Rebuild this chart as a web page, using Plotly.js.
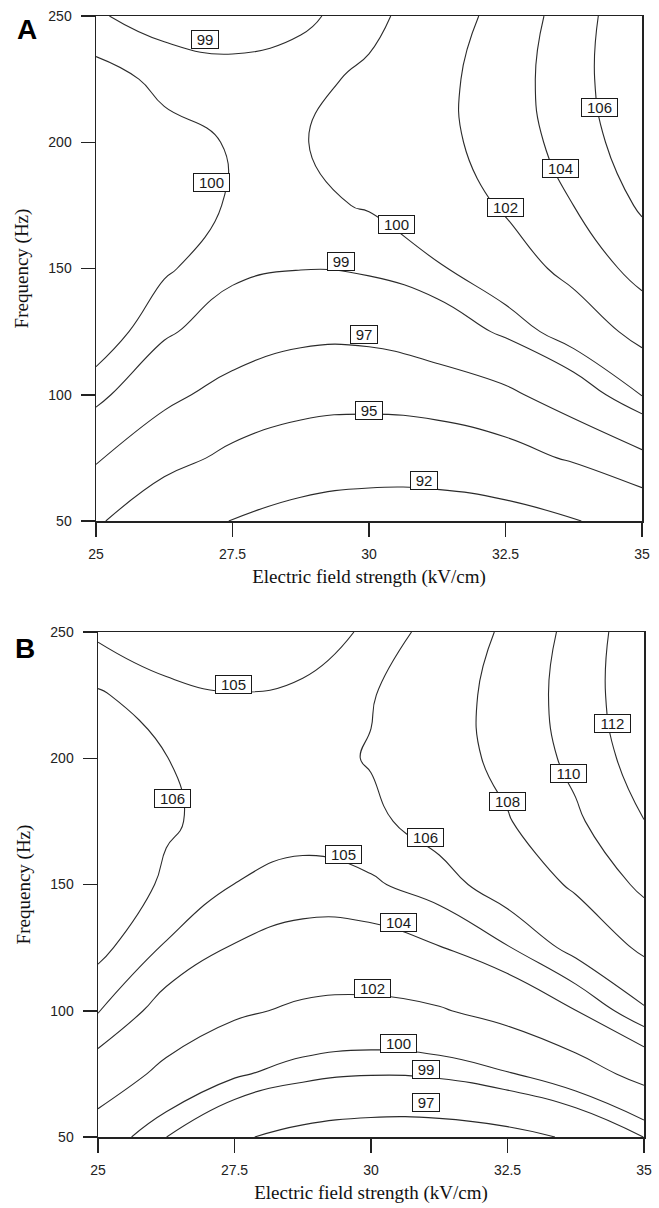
<!DOCTYPE html>
<html>
<head>
<meta charset="utf-8">
<script src="https://cdn.plot.ly/plotly-3.0.1.min.js"></script>
<style>
  html, body { margin: 0; padding: 0; background: #ffffff; }
  #chart { width: 659px; height: 1208px; }
</style>
</head>
<body>
<div id="chart"></div>
<script>
// ---- Data ----
// Grid of electric field strength (kV/cm) and frequency (Hz)
const fieldKVcm = [25, 26.25, 27.5, 28.75, 30, 31.25, 32.5, 33.75, 35];
const freqHz = [50, 75, 100, 125, 150, 175, 200, 225, 250];

// Panel A response surface (rows = frequency, columns = field strength)
const responseA = [
  [95.27, 93.39, 91.92, 90.94, 90.44, 90.42, 90.89, 91.84, 93.28],
  [97.20, 95.69, 94.57, 93.75, 93.42, 93.57, 94.21, 95.26, 96.54],
  [99.44, 97.43, 96.35, 95.83, 95.70, 95.96, 96.60, 98.05, 100.06],
  [100.70, 99.25, 98.04, 97.40, 97.41, 98.06, 99.26, 100.72, 102.66],
  [101.43, 100.15, 99.35, 99.04, 99.21, 99.86, 101.00, 102.62, 104.73],
  [101.64, 100.53, 99.90, 99.75, 100.09, 100.91, 102.22, 104.01, 106.28],
  [101.33, 100.38, 99.92, 99.94, 100.45, 101.43, 102.91, 104.86, 107.31],
  [100.49, 99.71, 99.41, 99.60, 100.28, 101.43, 103.07, 105.20, 107.81],
  [99.12, 98.51, 98.38, 98.74, 99.58, 100.90, 102.71, 105.00, 107.78]
];

// Panel B response surface
const responseB = [
  [100.96, 99.01, 97.24, 96.43, 96.07, 96.07, 96.43, 97.25, 99.02],
  [103.28, 101.49, 100.20, 99.39, 99.07, 99.23, 99.89, 101.03, 102.66],
  [105.07, 103.45, 102.32, 101.68, 101.52, 101.85, 102.67, 103.98, 105.78],
  [106.33, 104.88, 103.91, 103.44, 103.45, 103.95, 104.93, 106.40, 108.37],
  [107.07, 105.78, 104.99, 104.67, 104.85, 105.51, 106.67, 108.30, 110.43],
  [107.29, 106.16, 105.53, 105.39, 105.73, 106.56, 107.87, 109.68, 111.97],
  [106.98, 106.02, 105.55, 105.57, 106.08, 107.08, 108.56, 110.53, 112.99],
  [106.14, 105.35, 105.05, 105.23, 105.91, 107.07, 108.72, 110.85, 113.48],
  [104.78, 104.16, 104.02, 104.37, 105.21, 106.54, 108.35, 110.65, 113.44]
];

// Contour levels drawn in each panel
const levelsA = [92, 95, 97, 99, 100, 102, 104, 106];
const levelsB = [97, 99, 100, 102, 104, 105, 106, 108, 110, 112];

// Axis ticks
const xTicks = [25, 27.5, 30, 32.5, 35];
const xTickText = ['25', '27.5', '30', '32.5', '35'];
const yTicks = [50, 100, 150, 200, 250];
const yTickText = ['50', '100', '150', '200', '250'];

// Where each contour label box sits (level, field, frequency)
const labelPlacementA = [
  [99, 27.0, 240.7], [100, 27.12, 183.9], [100, 30.51, 167.6], [102, 32.5, 174.0],
  [104, 33.51, 189.8], [106, 34.23, 213.6], [99, 29.49, 152.6], [97, 29.9, 123.8],
  [95, 30.0, 93.8], [92, 31.01, 65.9]
];
const labelPlacementB = [
  [105, 27.49, 229.4], [106, 26.36, 183.9], [105, 29.49, 161.9], [106, 31.0, 168.7],
  [108, 32.5, 182.9], [110, 33.62, 193.8], [112, 34.42, 213.6], [104, 30.51, 134.9],
  [102, 30.02, 109.0], [100, 30.51, 86.9], [99, 31.0, 76.9], [97, 31.0, 63.5]
];

// ---- Build figure ----
const lineColor = '#2b2b2b';
const traces = [];
function addPanel(z, levels, xa, ya) {
  levels.forEach(function (lv) {
    traces.push({
      type: 'contour',
      x: fieldKVcm, y: freqHz, z: z,
      xaxis: xa, yaxis: ya,
      autocontour: false,
      contours: { start: lv, end: lv + 0.01, size: 1, coloring: 'none', showlabels: false },
      line: { color: lineColor, width: 1.1, smoothing: 1.3 },
      showscale: false,
      hoverinfo: 'skip'
    });
  });
}
addPanel(responseA, levelsA, 'x', 'y');
addPanel(responseB, levelsB, 'x2', 'y2');

const annotations = [];
function addLabels(list, xr, yr) {
  list.forEach(function (p) {
    const txt = String(p[0]);
    annotations.push({
      xref: xr, yref: yr, x: p[1], y: p[2],
      text: txt, showarrow: false,
      font: { family: 'Liberation Sans, Arial, sans-serif', size: 15, color: '#1a1a1a' },
      bgcolor: '#ffffff', bordercolor: '#1a1a1a', borderwidth: 1, borderpad: 1,
      width: txt.length === 3 ? 33 : 24, height: 15,
      xanchor: 'center', yanchor: 'middle'
    });
  });
}
addLabels(labelPlacementA, 'x', 'y');
addLabels(labelPlacementB, 'x2', 'y2');

// Panel letters
annotations.push({ xref: 'paper', yref: 'paper', x: 27 / 659, y: 1 - 30 / 1208, text: '<b>A</b>',
  showarrow: false, xanchor: 'center', yanchor: 'middle',
  font: { family: 'Liberation Sans, Arial, sans-serif', size: 28, color: '#000' } });
annotations.push({ xref: 'paper', yref: 'paper', x: 25 / 659, y: 1 - 648 / 1208, text: '<b>B</b>',
  showarrow: false, xanchor: 'center', yanchor: 'middle',
  font: { family: 'Liberation Sans, Arial, sans-serif', size: 28, color: '#000' } });

const tickFont = { family: 'Liberation Sans, Arial, sans-serif', size: 14, color: '#222' };
const titleFont = { family: 'Liberation Serif, Times New Roman, serif', size: 19, color: '#111' };

function xAxis(domain, anchor) {
  return {
    domain: domain, anchor: anchor, range: [25, 35],
    tickmode: 'array', tickvals: xTicks, ticktext: xTickText,
    ticks: 'outside', ticklen: 14, tickwidth: 1.5, tickcolor: '#222',
    showline: true, mirror: true, linecolor: '#222', linewidth: 1.5,
    showgrid: false, zeroline: false, tickfont: tickFont, ticklabelstandoff: 6,
    title: { text: 'Electric field strength (kV/cm)', font: titleFont, standoff: 8 },
    automargin: false
  };
}
function yAxis(domain, anchor) {
  return {
    domain: domain, anchor: anchor, range: [50, 250],
    tickmode: 'array', tickvals: yTicks, ticktext: yTickText,
    ticks: 'outside', ticklen: 14, tickwidth: 1.5, tickcolor: '#222',
    showline: true, mirror: true, linecolor: '#222', linewidth: 1.5,
    showgrid: false, zeroline: false, tickfont: tickFont, ticklabelstandoff: 6,
    title: { text: 'Frequency (Hz)', font: titleFont, standoff: 14 },
    automargin: false
  };
}

const layout = {
  width: 659, height: 1208,
  margin: { l: 0, r: 0, t: 0, b: 0 },
  paper_bgcolor: '#ffffff', plot_bgcolor: '#ffffff',
  showlegend: false,
  xaxis: xAxis([96 / 659, 642 / 659], 'y'),
  yaxis: yAxis([1 - 521 / 1208, 1 - 16 / 1208], 'x'),
  xaxis2: xAxis([98 / 659, 644 / 659], 'y2'),
  yaxis2: yAxis([1 - 1137 / 1208, 1 - 632 / 1208], 'x2'),
  annotations: annotations
};

Plotly.newPlot('chart', traces, layout, { displayModeBar: false, staticPlot: true });
</script>
</body>
</html>
